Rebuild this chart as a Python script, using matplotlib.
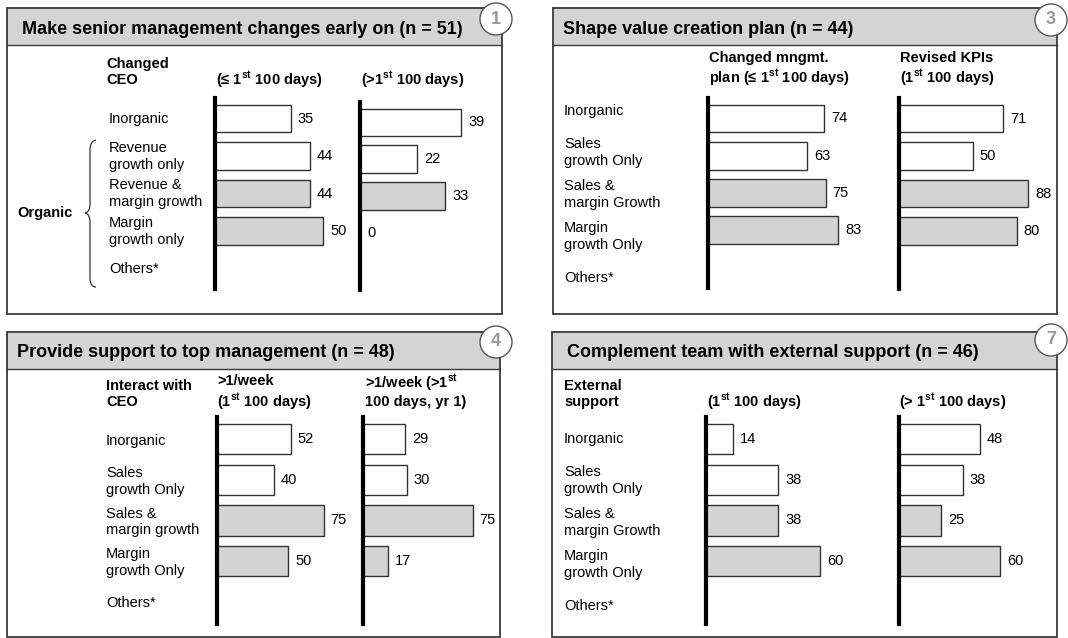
import matplotlib
matplotlib.use("Agg")
import matplotlib.pyplot as plt
from matplotlib.patches import Rectangle, Circle, PathPatch
from matplotlib.path import Path

# fuentes tipo Arial
plt.rcParams['font.family'] = ['Liberation Sans', 'DejaVu Sans']
plt.rcParams['mathtext.fontset'] = 'custom'
plt.rcParams['mathtext.rm'] = 'Liberation Sans'
plt.rcParams['mathtext.bf'] = 'Liberation Sans:bold'

# datos de cada panel
p1_title = "Make senior management changes early on (n = 51)"
p1_labels = ["Inorganic", "Revenue\ngrowth only", "Revenue &\nmargin growth", "Margin\ngrowth only", "Others*"]
p1_heads = ["Changed\nCEO", "(≤ $\\mathbf{1^{st}}$ 100 days)", "(>$\\mathbf{1^{st}}$ 100 days)"]
p1_a = [35, 44, 44, 50]
p1_b = [39, 22, 33, 0]

p3_title = "Shape value creation plan (n = 44)"
p3_labels = ["Inorganic", "Sales\ngrowth Only", "Sales &\nmargin Growth", "Margin\ngrowth Only", "Others*"]
p3_heads = ["", "Changed mngmt.\nplan (≤ $\\mathbf{1^{st}}$ 100 days)", "Revised KPIs\n($\\mathbf{1^{st}}$ 100 days)"]
p3_a = [74, 63, 75, 83]
p3_b = [71, 50, 88, 80]

p4_title = "Provide support to top management (n = 48)"
p4_labels = ["Inorganic", "Sales\ngrowth Only", "Sales &\nmargin growth", "Margin\ngrowth Only", "Others*"]
p4_heads = ["Interact with\nCEO", ">1/week\n($\\mathbf{1^{st}}$ 100 days)", ">1/week (>$\\mathbf{1^{st}}$\n100 days, yr 1)"]
p4_a = [52, 40, 75, 50]
p4_b = [29, 30, 75, 17]

p7_title = "Complement team with external support (n = 46)"
p7_labels = ["Inorganic", "Sales\ngrowth Only", "Sales &\nmargin Growth", "Margin\ngrowth Only", "Others*"]
p7_heads = ["External\nsupport", "($\\mathbf{1^{st}}$ 100 days)", "(> $\\mathbf{1^{st}}$ 100 days)"]
p7_a = [14, 38, 38, 60]
p7_b = [48, 38, 25, 60]

fills = ['white', 'white', '#d3d3d3', '#d3d3d3']
W, H = 1068, 638

fig = plt.figure(figsize=(10.68, 6.38), dpi=100)
bg = fig.add_axes([0, 0, 1, 1])
bg.set_xlim(0, W)
bg.set_ylim(H, 0)
bg.axis('off')


def caja(x0, y0, x1, y1, yb, titulo, tx, tby, num, cx, cy):
    bg.add_patch(Rectangle((x0, y0), x1 - x0, yb - y0, facecolor='#d4d4d4', edgecolor='none'))
    bg.add_patch(Rectangle((x0, y0), x1 - x0, y1 - y0, fill=False, edgecolor='#3a3a3a', lw=1.3))
    bg.plot([x0, x1], [yb, yb], color='#3a3a3a', lw=1)
    bg.text(tx, tby, titulo, fontsize=13, fontweight='bold', va='baseline')
    bg.add_patch(Circle((cx, cy), 16, facecolor='white', edgecolor='#555555', lw=1, zorder=5))
    bg.text(cx, cy, num, fontsize=13, fontweight='bold', color='#999999', ha='center', va='center', zorder=6)


def barras(x, ytop, ybot, escala, valores, ancho=140):
    ax = fig.add_axes([x / W, 1 - ybot / H, ancho / W, (ybot - ytop) / H])
    ax.patch.set_alpha(0)
    pos = list(range(len(valores)))
    ax.barh(pos, valores, height=0.74, color=fills[:len(valores)], edgecolor='#333333', linewidth=1)
    ax.set_xlim(0, ancho / escala)
    ax.set_ylim(4.55, -0.55)
    for s in ['top', 'right', 'bottom']:
        ax.spines[s].set_visible(False)
    ax.spines['left'].set_linewidth(3)
    ax.spines['left'].set_color('black')
    ax.set_xticks([])
    ax.set_yticks([])
    for i, v in zip(pos, valores):
        ax.annotate(str(v), (v, i), xytext=(7, 0), textcoords='offset pixels', va='center', fontsize=10.5)
    return ax


def etiquetas(x, y0, paso, labels):
    for i, t in enumerate(labels):
        bg.text(x, y0 + i * paso, t, fontsize=10.5, va='center', linespacing=1.26)


def cabeceras(xs, yb, heads):
    for x, t in zip(xs, heads):
        if t:
            bg.text(x, yb, t, fontsize=10.5, fontweight='bold', va='baseline', linespacing=1.2)


# panel 1
caja(7, 8, 502, 314, 45, p1_title, 22, 34, "1", 496, 19)
cabeceras([106, 216, 361], 84, p1_heads)
etiquetas(109, 118.5, 37.7, p1_labels)
bg.text(17, 213, "Organic", fontsize=10.5, fontweight='bold', va='center')
llave = [(96, 140), (90, 141), (90, 150), (90, 204), (90, 212), (85, 213), (90, 214), (90, 222),
         (90, 278), (90, 287), (96, 287)]
cod = [Path.MOVETO, Path.CURVE3, Path.CURVE3, Path.LINETO, Path.CURVE3, Path.CURVE3, Path.CURVE3,
       Path.CURVE3, Path.LINETO, Path.CURVE3, Path.CURVE3]
bg.add_patch(PathPatch(Path(llave, cod), fill=False, edgecolor='#333333', lw=0.9))
barras(215, 98, 289, 2.16, p1_a)
barras(360, 102, 290, 2.59, p1_b)

# panel 3
caja(553, 8, 1057, 314, 45, p3_title, 563, 34, "3", 1051, 20)
cabeceras([709, 900], 83, p3_heads[1:])
etiquetas(564, 111, 41.7, p3_labels)
barras(708, 98, 288, 1.57, p3_a)
barras(899, 98, 289, 1.47, p3_b)

# panel 4
caja(7, 332, 500, 637, 369, p4_title, 17, 357, "4", 496, 342)
cabeceras([106, 217, 365], 406, p4_heads)
etiquetas(106, 441, 40.5, p4_labels)
barras(217, 417, 624, 1.42, p4_a)
barras(363, 417, 624, 1.46, p4_b)

# panel 7
caja(552, 332, 1057, 637, 369, p7_title, 567, 357, "7", 1051, 340)
cabeceras([564, 707, 899], 406, p7_heads)
etiquetas(564, 439, 41.8, p7_labels)
barras(706, 417, 624, 1.9, p7_a)
barras(899, 417, 624, 1.68, p7_b)

fig.savefig("out.png", dpi=100)
